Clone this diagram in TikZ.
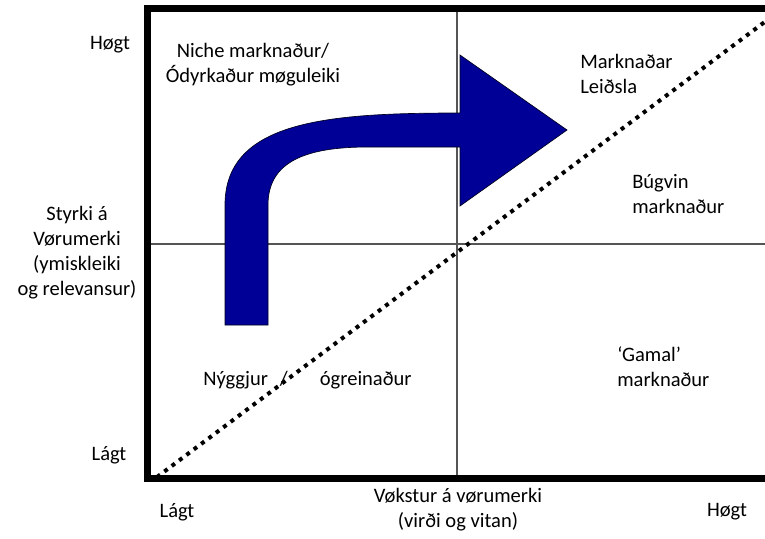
\documentclass[tikz,border=0pt]{standalone}
\usepackage{fontspec}
\setmainfont{Carlito}
\definecolor{arrowblue}{RGB}{0,0,150}
\definecolor{axisgray}{RGB}{85,85,85}
\begin{document}
\begin{tikzpicture}[x=0.75pt,y=-0.75pt,
  lbl/.style={font=\fontsize{15.4}{18.8}\selectfont, inner sep=0pt, text=black},
  frame/.style={line width=5.25pt, draw=black},
  midline/.style={line width=1.1pt, draw=axisgray},
  dotline/.style={line width=3pt, dash pattern=on 3pt off 3.9pt, draw=black},
  bigarrow/.style={fill=arrowblue, draw=black!80!arrowblue, line width=0.5pt}]
\useasboundingbox (0,0) rectangle (765,539);
\clip (0,0) rectangle (765,539);

% quadrant dividers
\coordinate (vtop) at (457,8);
\coordinate (vbot) at (457,478);
\coordinate (hl) at (147,244);
\coordinate (hr) at (800,244);
\draw[midline] (vtop) -- (vbot);
\draw[midline] (hl) -- (hr);

% frame
\draw[frame] (147,8) rectangle (810,478);

% dotted diagonal
\coordinate (d0) at (157,477);
\coordinate (d1) at (790,3);
\draw[dotline] (d0) -- (d1);

% bent arrow
\draw[bigarrow] (225,325) -- (225,205)
  .. controls (225,120) and (330,113) .. (460,113)
  -- (460,55) -- (567,130) -- (460,206) -- (460,147) -- (368,147)
  .. controls (305,147) and (268,162) .. (268,205)
  -- (268,325) -- cycle;

% left axis labels
\node[lbl] (yhigh) at (110,45) {Høgt};
\node[lbl] (ylow) at (109,455) {Lágt};
\node[lbl, align=center] (ytitle) at (77,253) {Styrki á\\Vørumerki\\(ymiskleiki\\og relevansur)};

% bottom axis labels
\node[lbl] (xlow) at (177,512) {Lágt};
\node[lbl] (xhigh) at (727,512) {Høgt};
\node[lbl, align=center] (xtitle) at (458,510) {Vøkstur á vørumerki\\(virði og vitan)};

% quadrant labels
\node[lbl, align=center] (niche) at (253,65) {Niche marknaður/\\Ódyrkaður møguleiki};
\node[lbl, align=left, anchor=west] (lead) at (580,74) {Marknaðar\\Leiðsla};
\node[lbl, align=left, anchor=west] (grown) at (632,194) {Búgvin\\marknaður};
\node[lbl, align=left, anchor=west] (old) at (617,367) {‘Gamal’\\marknaður};
\node[lbl, anchor=west] (new) at (203,380) {Nýggjur\hspace{9pt}/\hspace{24pt}ógreinaður};
\end{tikzpicture}
\end{document}
